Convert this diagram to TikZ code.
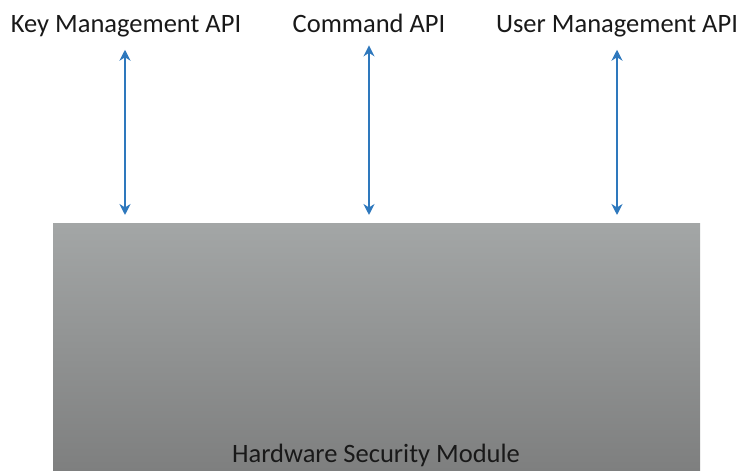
\documentclass[tikz,border=0pt]{standalone}
\usepackage{fontspec}
\setmainfont{Carlito}
\usetikzlibrary{arrows.meta}

\definecolor{linkblue}{HTML}{2E78BD}
\definecolor{hsmtop}{HTML}{A3A6A6}
\definecolor{hsmbottom}{HTML}{7E7F7F}

\tikzset{
  api/.style={inner sep=0pt, anchor=base, text=black!90, font=\fontsize{26.5}{30}\selectfont},
  link/.style={draw=linkblue, line width=2.4pt, {Stealth[length=11pt,width=11pt]}-{Stealth[length=11pt,width=11pt]}}
}

\begin{document}
\begin{tikzpicture}[x=1pt,y=1pt]
    \useasboundingbox (0,0) rectangle (740,471);
    % the module
    \shade[top color=hsmtop, bottom color=hsmbottom] (53,0) rectangle (700,247);
    \node[api] (hsm) at (376,8) {Hardware Security Module};
    % the three interfaces
    \node[api] (key)  at (126,438) {Key Management API};
    \node[api] (cmd)  at (369,438) {Command API};
    \node[api] (user) at (617,438) {User Management API};
    \coordinate (keyend)  at (125,256);
    \coordinate (cmdend)  at (369,256);
    \coordinate (userend) at (617,256);
    \draw[link] (key.south -| keyend) ++(0,-12) -- (keyend);
    \draw[link] (cmd.south -| cmdend) ++(0,-12) -- (cmdend);
    \draw[link] (user.south -| userend) ++(0,-12) -- (userend);
\end{tikzpicture}
\end{document}
